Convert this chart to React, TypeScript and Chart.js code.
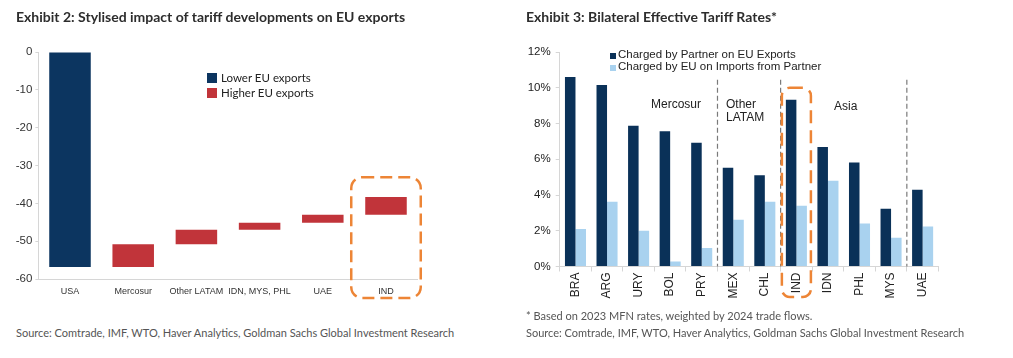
import React, { useEffect, useRef } from "react";
import { Chart, registerables } from "chart.js";
Chart.register(...registerables);

// ---------- Exhibit 2 data ----------
const impactCategories = ["USA", "Mercosur", "Other LATAM", "IDN, MYS, PHL", "UAE", "IND"];
const impactFrom = [-56.8, -56.8, -50.8, -47.0, -45.1, -43.0];
const impactTo = [0, -50.8, -47.0, -45.1, -43.0, -38.3];
const impactKind = ["lower", "higher", "higher", "higher", "higher", "higher"];
const impactLegend = ["Lower EU exports", "Higher EU exports"];

// ---------- Exhibit 3 data ----------
const tariffCountries = ["BRA", "ARG", "URY", "BOL", "PRY", "MEX", "CHL", "IND", "IDN", "PHL", "MYS", "UAE"];
const chargedByPartner = [10.6, 10.15, 7.87, 7.56, 6.92, 5.52, 5.11, 9.33, 6.68, 5.82, 3.23, 4.29];
const chargedByEU = [2.1, 3.62, 2.0, 0.28, 1.03, 2.61, 3.62, 3.4, 4.8, 2.41, 1.61, 2.24];
const tariffSeries = ["Charged by Partner on EU Exports", "Charged by EU on Imports from Partner"];
const regionSizes = [5, 2, 4, 1];

const NAVY = "#0c3560";
const RED = "#c1343a";
const DARK = "#0a3158";
const LIGHT = "#a9d2ef";
const ORANGE = "#ed8536";
const AXIS = "#d6d6d6";
const SANS = "'Liberation Sans', Arial, sans-serif";
const LATO = "Lato, 'Open Sans', sans-serif";

function highlightPlugin(cat: string, topValue: number, halfFrac: number, below: number, dash: number[], radius: number) {
  return {
    id: "highlight",
    afterDraw(chart: any) {
      const x = chart.scales.x;
      const y = chart.scales.y;
      const i = x.getLabels().indexOf(cat);
      if (i < 0) return;
      const cw = x.getPixelForValue(1) - x.getPixelForValue(0);
      const cx = x.getPixelForValue(i);
      const left = cx - cw * halfFrac;
      const right = cx + cw * halfFrac;
      const top = y.getPixelForValue(topValue);
      const bottom = chart.chartArea.bottom + below;
      const ctx = chart.ctx;
      ctx.save();
      ctx.strokeStyle = ORANGE;
      ctx.lineWidth = 2.5;
      ctx.setLineDash(dash);
      ctx.beginPath();
      (ctx as any).roundRect(left, top, right - left, bottom - top, radius);
      ctx.stroke();
      ctx.restore();
    },
  };
}

const separatorPlugin = {
  id: "separators",
  afterDatasetsDraw(chart: any) {
    const x = chart.scales.x;
    const y = chart.scales.y;
    const ctx = chart.ctx;
    let idx = 0;
    ctx.save();
    ctx.strokeStyle = "#7a7a7a";
    ctx.lineWidth = 1.2;
    ctx.setLineDash([5, 3]);
    for (let g = 0; g < regionSizes.length - 1; g++) {
      idx += regionSizes[g];
      const px = (x.getPixelForValue(idx - 1) + x.getPixelForValue(idx)) / 2;
      ctx.beginPath();
      ctx.moveTo(px, y.getPixelForValue(10.45));
      ctx.lineTo(px, chart.chartArea.bottom);
      ctx.stroke();
    }
    ctx.restore();
  },
};

function ImpactChart() {
  const ref = useRef<HTMLCanvasElement>(null);
  useEffect(() => {
    const chart = new Chart(ref.current!, {
      type: "bar",
      data: {
        labels: impactCategories,
        datasets: impactLegend.map((label, d) => ({
          label,
          data: impactCategories.map((_, i) =>
            impactKind[i] === (d === 0 ? "lower" : "higher") ? [impactFrom[i], impactTo[i]] : null
          ) as any,
          backgroundColor: d === 0 ? NAVY : RED,
          grouped: false,
          barPercentage: 0.657,
          categoryPercentage: 1,
        })),
      },
      options: {
        animation: false,
        responsive: false,
        devicePixelRatio: 1,
        layout: { padding: { top: 52, right: 82.4, bottom: 0, left: 0 }, autoPadding: false } as any,
        plugins: { legend: { display: false }, tooltip: { enabled: false } },
        scales: {
          x: {
            grid: { display: false, drawTicks: false },
            border: { display: true, color: AXIS, width: 1 },
            ticks: { color: "#333", font: { family: SANS, size: 9 }, padding: 7, maxRotation: 0, autoSkip: false },
            afterFit: (s: any) => { s.height = 31; },
          },
          y: {
            min: -60,
            max: 0,
            ticks: { stepSize: 10, color: "#333", font: { family: SANS, size: 11.5 }, padding: 3 },
            grid: { drawOnChartArea: false, tickLength: 3, color: AXIS },
            border: { display: true, color: AXIS, width: 1 },
            afterFit: (s: any) => { s.width = 38.4; },
          },
        },
      },
      plugins: [highlightPlugin("IND", -33.1, 0.55, 19, [12, 6], 11)],
    });
    return () => chart.destroy();
  }, []);
  return <canvas ref={ref} width={500} height={310} style={{ position: "absolute", left: 0, top: 0 }} />;
}

function TariffChart() {
  const ref = useRef<HTMLCanvasElement>(null);
  useEffect(() => {
    const chart = new Chart(ref.current!, {
      type: "bar",
      data: {
        labels: tariffCountries,
        datasets: [
          { label: tariffSeries[0], data: chargedByPartner, backgroundColor: DARK, barPercentage: 1, categoryPercentage: 0.667 },
          { label: tariffSeries[1], data: chargedByEU, backgroundColor: LIGHT, barPercentage: 1, categoryPercentage: 0.667 },
        ],
      },
      options: {
        animation: false,
        responsive: false,
        devicePixelRatio: 1,
        layout: { padding: { top: 52, right: 74.6, bottom: 0, left: 0 }, autoPadding: false } as any,
        plugins: { legend: { display: false }, tooltip: { enabled: false } },
        scales: {
          x: {
            grid: { drawOnChartArea: false, tickLength: 5, color: AXIS, offset: true },
            border: { display: true, color: AXIS, width: 1 },
            ticks: { color: "#222", font: { family: SANS, size: 12 }, padding: 1, minRotation: 90, maxRotation: 90, autoSkip: false },
            afterFit: (s: any) => { s.height = 43.5; },
          },
          y: {
            min: 0,
            max: 12,
            ticks: { stepSize: 2, color: "#222", font: { family: SANS, size: 11.5 }, padding: 5, callback: (v: any) => v + "%" },
            grid: { drawOnChartArea: false, tickLength: 4, color: AXIS },
            border: { display: true, color: AXIS, width: 1 },
            afterFit: (s: any) => { s.width = 59.7; },
          },
        },
      },
      plugins: [separatorPlugin, highlightPlugin("IND", 10, 0.46, 30.5, [13, 7], 8)],
    });
    return () => chart.destroy();
  }, []);
  return <canvas ref={ref} width={513} height={310} style={{ position: "absolute", left: 500, top: 0 }} />;
}

const txt = (left: number, top: number, size: number, family: string, color: string, extra: any = {}) => ({
  position: "absolute" as const,
  left,
  top,
  fontSize: size,
  fontFamily: family,
  color,
  lineHeight: 1.15,
  whiteSpace: "nowrap" as const,
  ...extra,
});

export default function App() {
  return (
    <div style={{ position: "fixed", left: 0, top: 0, width: 1013, height: 358, background: "#fff", overflow: "hidden" }}>
      <ImpactChart />
      <TariffChart />
      <div style={txt(16, 9, 14, LATO, "#2d2d2d", { fontWeight: 700 })}>Exhibit 2: Stylised impact of tariff developments on EU exports</div>
      <div style={txt(526, 9, 14, LATO, "#2d2d2d", { fontWeight: 700 })}>Exhibit 3: Bilateral Effective Tariff Rates*</div>

      {/* Exhibit 2 legend */}
      <div style={{ position: "absolute", left: 207, top: 73, width: 10, height: 10, background: NAVY }} />
      <div style={txt(221, 71, 11.5, LATO, "#222")}>{impactLegend[0]}</div>
      <div style={{ position: "absolute", left: 207, top: 88, width: 10, height: 10, background: RED }} />
      <div style={txt(221, 86, 11.5, LATO, "#222")}>{impactLegend[1]}</div>

      {/* Exhibit 3 legend */}
      <div style={{ position: "absolute", left: 610, top: 52.5, width: 6, height: 6, background: DARK }} />
      <div style={txt(618, 48, 11.5, SANS, "#222")}>{tariffSeries[0]}</div>
      <div style={{ position: "absolute", left: 610, top: 64.5, width: 6, height: 6, background: LIGHT }} />
      <div style={txt(618, 60, 11.5, SANS, "#222")}>{tariffSeries[1]}</div>

      {/* Region labels */}
      <div style={txt(651, 98, 12, SANS, "#222")}>Mercosur</div>
      <div style={txt(726, 98, 12, SANS, "#222", { lineHeight: "12.5px" })}>Other<br />LATAM</div>
      <div style={txt(834, 100, 12, SANS, "#222")}>Asia</div>

      {/* Footnotes */}
      <div style={txt(16, 327, 11, LATO, "#555")}>Source: Comtrade, IMF, WTO, Haver Analytics, Goldman Sachs Global Investment Research</div>
      <div style={txt(526, 310, 11, LATO, "#555")}>* Based on 2023 MFN rates, weighted by 2024 trade flows.</div>
      <div style={txt(526, 327, 11, LATO, "#555")}>Source: Comtrade, IMF, WTO, Haver Analytics, Goldman Sachs Global Investment Research</div>
    </div>
  );
}
